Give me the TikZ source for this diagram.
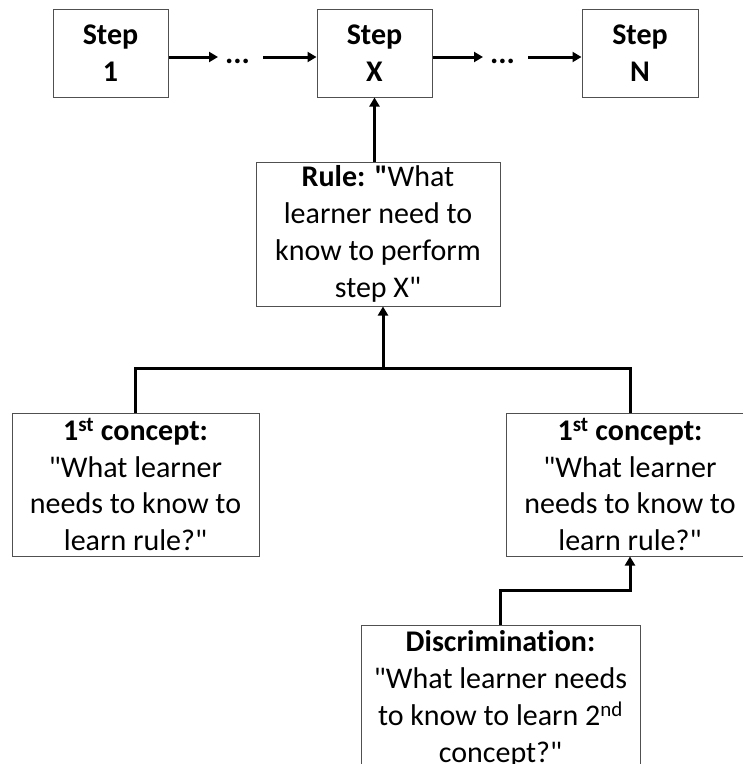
\documentclass[tikz,border=0pt]{standalone}
\usepackage{fontspec}
\newfontfamily\calfont{Carlito}[Ligatures=NoCommon]
\usetikzlibrary{arrows.meta}
\definecolor{boxgray}{HTML}{505050}
\begin{document}
\begin{tikzpicture}[x=1pt,y=-1pt,
  box/.style={draw=boxgray, line width=1pt, fill=white, align=center, inner sep=0pt,
    font=\calfont\fontsize{30}{36.8}\selectfont},
  conn/.style={line width=3pt, black},
  arr/.style={conn, -{Triangle[length=9pt,width=10pt]}},
  dots/.style={inner sep=0pt, anchor=base, font=\calfont\fontsize{31}{36.8}\selectfont\bfseries}]
\useasboundingbox (0,0) rectangle (743,764);
\clip (0,0) rectangle (743,764);
% top row
\node[box, minimum width=115pt, minimum height=88pt] (step1) at (110.5,53) {\textbf{Step}\\\textbf{1}};
\node[box, minimum width=115pt, minimum height=88pt] (stepx) at (374.5,53) {\textbf{Step}\\\textbf{X}};
\node[box, minimum width=116pt, minimum height=88pt] (stepn) at (640,53) {\textbf{Step}\\\textbf{N}};
\node[dots] (d1) at (237.5,63) {...};
\node[dots] (d2) at (502.5,63) {...};
\coordinate (a1) at (218,57);
\coordinate (a2) at (263,57);
\coordinate (b1) at (483,57);
\coordinate (b2) at (528,57);
\draw[arr] ([yshift=-4pt]step1.east) -- (a1);
\draw[arr] (a2) -- ([yshift=-4pt]stepx.west);
\draw[arr] ([yshift=-4pt]stepx.east) -- (b1);
\draw[arr] (b2) -- ([yshift=-4pt]stepn.west);
% rule
\node[box, minimum width=244pt, minimum height=144pt] (rule) at (378,234)
  {\textbf{Rule: "}What\\learner need to\\know to perform\\step X"};
\draw[arr] (stepx.south|-rule.north) -- (stepx.south);
% concepts
\node[box, minimum width=247pt, minimum height=143pt] (c1) at (135.5,484.5)
  {\textbf{1\textsuperscript{st} concept:}\\"What learner\\needs to know to\\learn rule?"};
\node[box, minimum width=248pt, minimum height=143pt] (c2) at (630,484.5)
  {\textbf{1\textsuperscript{st} concept:}\\"What learner\\needs to know to\\learn rule?"};
\coordinate (j) at (383,368);
\draw[conn] (c1.north) -- (c1.north|-j) -- (c2.north|-j) -- (c2.north);
\draw[arr] (j) -- (j|-rule.south);
% discrimination
\node[box, minimum width=279pt, minimum height=148pt] (disc) at (500.5,699)
  {\textbf{Discrimination:}\\"What learner needs\\to know to learn 2\textsuperscript{nd}\\concept?"};
\coordinate (k) at (630,590);
\draw[arr] (disc.north) -- (disc.north|-k) -- (k) -- (c2.south);
\end{tikzpicture}
\end{document}
